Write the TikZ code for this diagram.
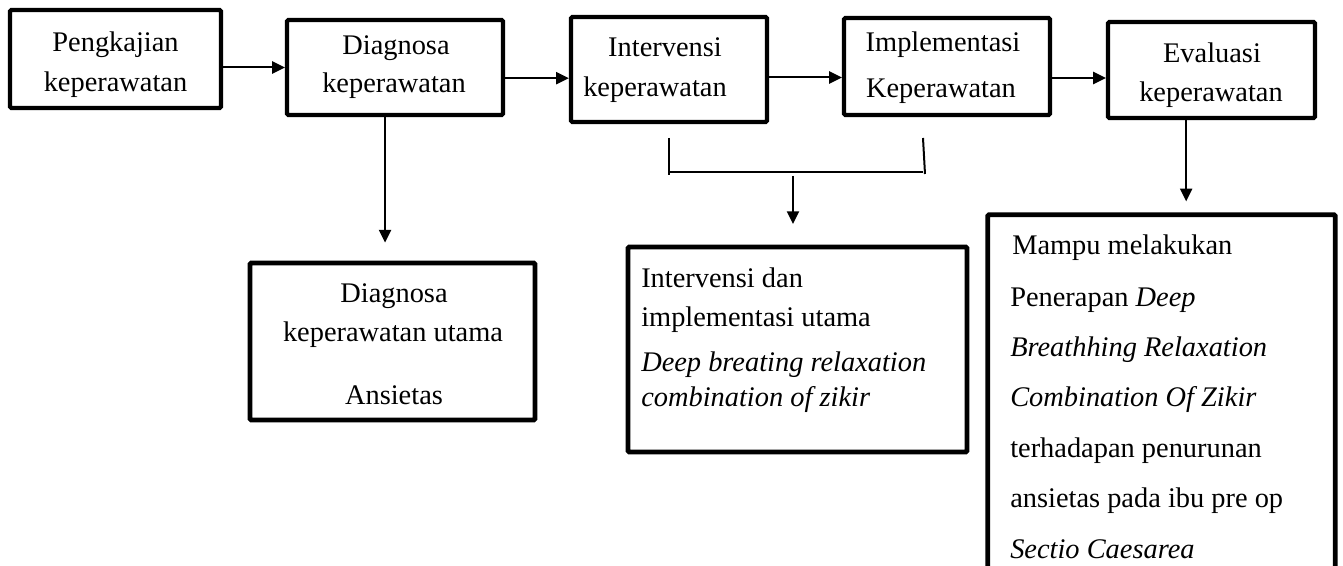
\documentclass[tikz,border=0pt]{standalone}
\usepackage{fontspec}
\setmainfont{Liberation Serif}
\usetikzlibrary{arrows.meta,fit}
\begin{document}
\begin{tikzpicture}[x=0.75pt,y=-0.75pt,
  box/.style={draw=black,line width=3.2pt,rounded corners=1pt,inner sep=0pt},
  bigbox/.style={box,line width=3.6pt},
  txt/.style={inner sep=0pt,anchor=base,font=\fontsize{21.3pt}{25pt}\selectfont},
  ltxt/.style={txt,anchor=base west},
  arr/.style={line width=1.5pt,-{Triangle[length=9.5pt,width=9pt]}},
  ln/.style={line width=1.5pt}]
\useasboundingbox (0,0) rectangle (1343,566);
% top row boxes
\node[box,fit={(10,10) (221,108)}] (b1) {};
\node[box,fit={(287,20) (503,115)}] (b2) {};
\node[box,fit={(571,17) (767,122)}] (b3) {};
\node[box,fit={(844,18) (1050,115)}] (b4) {};
\node[box,fit={(1108,22) (1315,118)}] (b5) {};
% lower boxes
\node[bigbox,fit={(250,263) (535,420)}] (d) {};
\node[bigbox,fit={(628,247) (967,452)}] (iu) {};
\node[inner sep=0pt,fit={(988,215) (1335,566)}] (e) {};
\draw[line width=3.6pt,rounded corners=1pt] ([yshift=-10pt]e.south west) -- (e.north west) -- (e.north east) -- ([yshift=-10pt]e.south east);
% texts
\node[txt] (t1a) at (115.5,52) {Pengkajian};
\node[txt] (t1b) at (115.5,92) {keperawatan};
\node[txt] (t2a) at (396,55) {Diagnosa};
\node[txt] (t2b) at (394,93) {keperawatan};
\node[txt] (t3a) at (665,57) {Intervensi};
\node[txt] (t3b) at (655,97) {keperawatan};
\node[txt] (t4a) at (943,52) {Implementasi};
\node[txt] (t4b) at (941,98) {Keperawatan};
\node[txt] (t5a) at (1212,63) {Evaluasi};
\node[txt] (t5b) at (1211,102) {keperawatan};
\node[txt] (tda) at (394,303) {Diagnosa};
\node[txt] (tdb) at (393,342) {keperawatan utama};
\node[txt] (tdc) at (394,405) {Ansietas};
\node[ltxt] (tia) at (641,288) {Intervensi dan};
\node[ltxt] (tib) at (641,327) {implementasi utama};
\node[ltxt] (tic) at (641,372) {\itshape Deep breating relaxation};
\node[ltxt] (tid) at (641,407) {\itshape combination of zikir};
\node[ltxt] (tea) at (1012,255) {Mampu melakukan};
\node[ltxt] (teb) at (1010,307) {Penerapan \textit{Deep}};
\node[ltxt] (tec) at (1010,357) {\itshape Breathhing Relaxation};
\node[ltxt] (ted) at (1010,407) {\itshape Combination Of Zikir};
\node[ltxt] (tee) at (1010,458) {terhadapan penurunan};
\node[ltxt] (tef) at (1010,508) {ansietas pada ibu pre op};
\node[ltxt] (teg) at (1010,558) {\itshape Sectio Caesarea};
% horizontal connectors
\draw[arr] (b1.east |- b2.west) -- (b2.west);
\draw[arr] ([yshift=-8pt]b2.east) -- ([yshift=-8pt]b2.east -| b3.west);
\draw[arr] ([yshift=-6pt]b3.east) -- ([yshift=-6pt]b3.east -| b4.west);
\draw[arr] ([yshift=-6pt]b5.west -| b4.east) -- ([yshift=-6pt]b5.west);
% vertical connectors
\draw[arr,shorten >=13.5pt] ([xshift=-7.5pt]b2.south) -- ([xshift=-7.5pt]b2.south |- d.north);
\draw[arr,shorten >=10pt] ([xshift=-19pt,yshift=3pt]b5.south) -- ([xshift=-19pt]b5.south |- e.north);
% bracket
\coordinate (bl1) at (669,138);
\coordinate (bl2) at (669,175);
\coordinate (br1) at (923,138);
\coordinate (br2) at (925,174);
\coordinate (bm) at (793,176);
\draw[ln] (bl1) -- (bl2);
\draw[ln] (br1) -- (br2);
\draw[ln] (669,172) -- (923,172);
\draw[arr,shorten >=15.5pt] (bm) -- (bm |- iu.north);
\end{tikzpicture}
\end{document}
